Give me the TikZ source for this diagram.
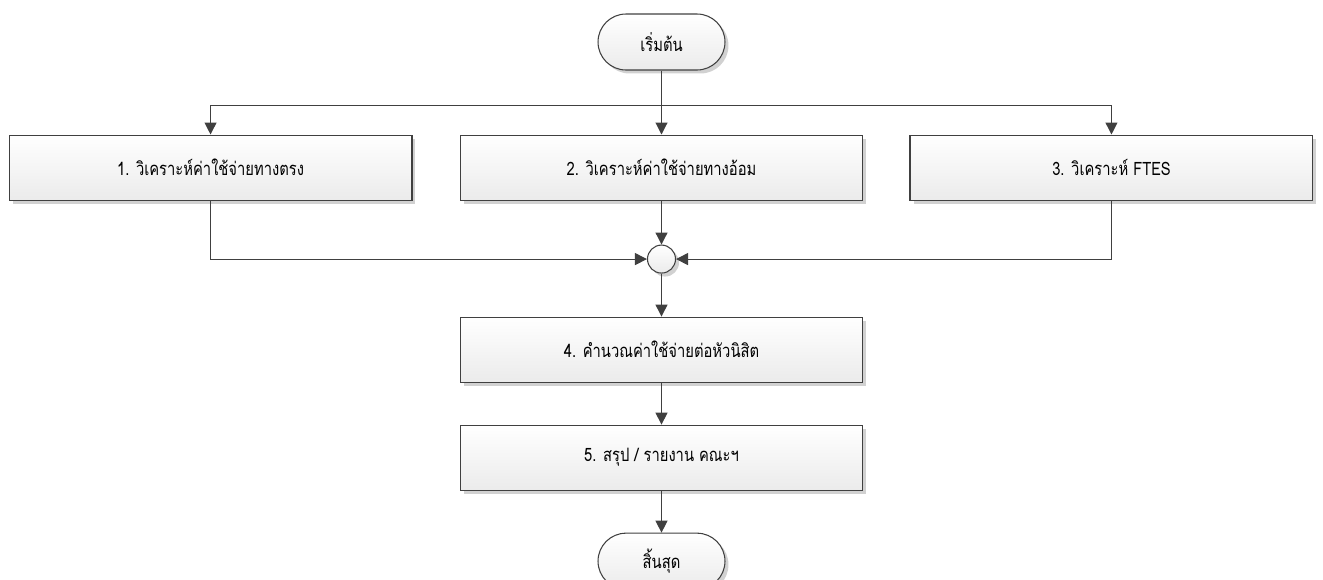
\documentclass[tikz,border=0pt]{standalone}
\usepackage{fontspec}
\newfontfamily\thaifont[Script=Thai,FakeStretch=0.8]{Loma}
\usetikzlibrary{arrows.meta,positioning,shadows}
\definecolor{linegray}{HTML}{404040}
\definecolor{boxgray}{HTML}{EBEBEB}

\begin{document}
\begin{tikzpicture}[x=0.02cm,y=-0.02cm,>={Triangle[length=0.24cm,width=0.24cm]},
                    color=linegray,line width=0.6pt,node distance=0.86cm]
  \tikzstyle{every node}=[font=\thaifont\fontsize{10.5}{13}\selectfont,text=black]
  \tikzstyle{terminal}=[draw=linegray,rounded corners=0.56cm,minimum width=2.54cm,
    minimum height=1.12cm,top color=white,bottom color=boxgray,
    drop shadow={shadow xshift=0.07cm,shadow yshift=-0.07cm,fill=black!18,opacity=1}]
  \tikzstyle{process}=[terminal,sharp corners,minimum width=8.06cm,minimum height=1.3cm]
  \tikzstyle{junction}=[terminal,sharp corners,circle,minimum size=0.56cm,
    minimum width=0.56cm,inner sep=0pt]

  \useasboundingbox (0,0) rectangle (1323,579);

  \node[terminal] (start) at (661.5,42)       {เริ่มต้น};
  \coordinate[below=0.7cm of start] (split);
  \node[process]  (indirect) [below=1.28cm of start] {2. วิเคราะห์ค่าใช้จ่ายทางอ้อม};
  \node[process]  (direct)   [left=0.94cm of indirect]  {1. วิเคราะห์ค่าใช้จ่ายทางตรง};
  \node[process]  (ftes)     [right=0.92cm of indirect] {3. วิเคราะห์ FTES};
  \node[junction] (merge)    [below=0.88cm of indirect] {};
  \node[process]  (percap)   [below=of merge]  {4. คำนวณค่าใช้จ่ายต่อหัวนิสิต};
  \node[process]  (report)   [below=0.84cm of percap] {5. สรุป / รายงาน คณะฯ};
  \node[terminal] (stop)     [below=0.84cm of report] {สิ้นสุด};

  \draw (start) -- (split);
  \draw[->] (split) -- (indirect);
  \draw[->] (split) -| (direct);
  \draw[->] (split) -| (ftes);
  \draw[->] (indirect) -- (merge);
  \draw[->] (direct) |- (merge);
  \draw[->] (ftes) |- (merge);
  \draw[->] (merge) -- (percap);
  \draw[->] (percap) -- (report);
  \draw[->] (report) -- (stop);
\end{tikzpicture}
\end{document}
